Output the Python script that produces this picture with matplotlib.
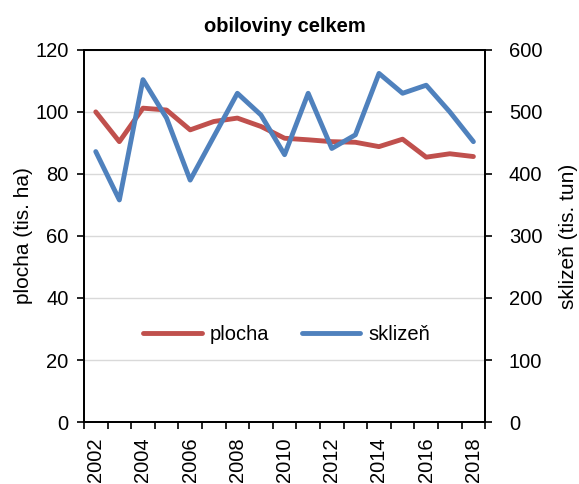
import numpy as np
from matplotlib import pyplot as plt

years = list(range(2002, 2019))
plocha = [100, 90.4, 101.2, 100.6, 94.2, 96.9, 98, 95.3, 91.5, 91, 90.4, 90.2,
          88.8, 91.2, 85.4, 86.5, 85.6]
sklizen = [436, 358, 552, 490, 390, 460, 530, 495, 431, 530, 441, 463,
           562, 530, 543, 500, 452]

plt.rcParams['font.family'] = ['Liberation Sans', 'DejaVu Sans']

fig = plt.figure(figsize=(5.79, 4.84), dpi=100)
ax = fig.add_axes([0.145, 0.128, 0.693, 0.769])
ax2 = ax.twinx()

x = np.arange(len(years))
l1, = ax.plot(x, plocha, color="#C0504D", lw=3.5, label="plocha",
              solid_capstyle="round", zorder=3)
l2, = ax2.plot(x, sklizen, color="#4F81BD", lw=3.5, label="sklizeň",
               solid_capstyle="round", zorder=3)

ax.set_ylim(0, 120)
ax.set_yticks(range(0, 121, 20))
ax2.set_ylim(0, 600)
ax2.set_yticks(range(0, 601, 100))
ax.set_xlim(-0.5, len(years) - 0.5)
ax.yaxis.grid(True, color="#d9d9d9", lw=1)
ax.set_axisbelow(True)

ax.set_xticks(x[::2])
ax.set_xticklabels([str(y) for y in years[::2]], rotation=90)
ax.set_xticks(np.arange(-0.5, len(years), 1), minor=True)
ax.tick_params(axis="x", which="major", length=0, pad=11, labelsize=14.5)
ax.tick_params(axis="x", which="minor", length=5, width=1.2, direction="out")
ax.tick_params(axis="y", length=5, width=1.2, labelsize=14.5, pad=6)
ax2.tick_params(axis="y", length=5, width=1.2, labelsize=14.5, pad=12)

for a in (ax, ax2):
    for s in a.spines.values():
        s.set_linewidth(1.3)

ax.set_ylabel("plocha (tis. ha)", fontsize=15, labelpad=2)
ax2.set_ylabel("sklizeň (tis. tun)", fontsize=15, labelpad=12)
ax.set_title("obiloviny celkem", fontsize=14.5, fontweight="bold", pad=13)

ax.legend([l1, l2], ["plocha", "sklizeň"], loc="center", ncol=2,
          bbox_to_anchor=(0.505, 0.234), frameon=False, fontsize=14.5,
          handlelength=2.9, handletextpad=0.4, columnspacing=1.6)

fig.savefig("out.png", dpi=100)
